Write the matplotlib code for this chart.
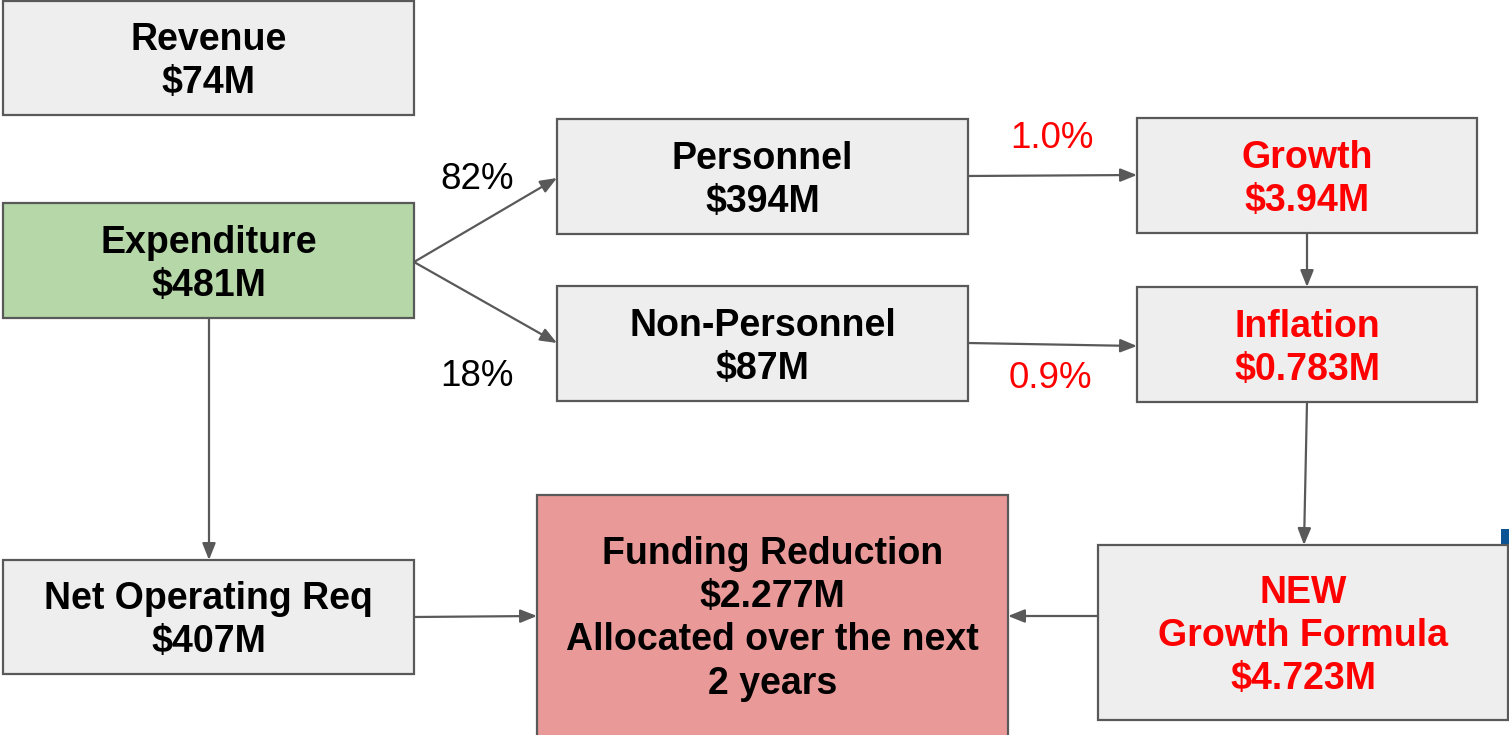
import matplotlib
matplotlib.use("Agg")
import matplotlib.pyplot as plt
from matplotlib.patches import Rectangle, FancyArrowPatch

plt.rcParams['font.family'] = ['Liberation Sans', 'DejaVu Sans']

# ---- data ----
box_names = ["Revenue", "Expenditure", "Personnel", "Non-Personnel", "Growth",
             "Inflation", "Net Operating Req", "Funding Reduction", "NEW Growth Formula"]
box_texts = ["Revenue\n$74M", "Expenditure\n$481M", "Personnel\n$394M",
             "Non-Personnel\n$87M", "Growth\n$3.94M", "Inflation\n$0.783M",
             "Net Operating Req\n$407M",
             "Funding Reduction\n$2.277M\nAllocated over the next\n2 years",
             "NEW\nGrowth Formula\n$4.723M"]
split_labels = ["82%", "18%"]
rate_labels = ["1.0%", "0.9%"]

# ---- layout (pixel coordinates) ----
W, H = 1509, 735
boxes = {
    "Revenue": (3, 1, 414, 115),
    "Expenditure": (3, 203, 414, 318),
    "Personnel": (557, 119, 968, 234),
    "Non-Personnel": (557, 286, 968, 401),
    "Growth": (1137, 118, 1477, 233),
    "Inflation": (1137, 287, 1477, 402),
    "Net Operating Req": (3, 560, 414, 674),
    "Funding Reduction": (537, 495, 1008, 740),
    "NEW Growth Formula": (1098, 545, 1508, 720),
}
fills = {"Expenditure": "#b6d7a8", "Funding Reduction": "#ea9999"}
red_text = {"Growth", "Inflation", "NEW Growth Formula"}
text_y = {"Funding Reduction": 619, "NEW Growth Formula": 636}

fig = plt.figure(figsize=(W / 100, H / 100), dpi=100)
ax = fig.add_axes([0, 0, 1, 1])
ax.set_xlim(0, W)
ax.set_ylim(H, 0)
ax.axis("off")

edge = "#595959"
for name, txt in zip(box_names, box_texts):
    x0, y0, x1, y1 = boxes[name]
    ax.add_patch(Rectangle((x0, y0), x1 - x0, y1 - y0, facecolor=fills.get(name, "#eeeeee"),
                           edgecolor=edge, linewidth=1.6, zorder=1))
    cy = text_y.get(name, (y0 + y1) / 2 + 3.5)
    ax.text((x0 + x1) / 2, cy, txt, ha="center", va="center", fontsize=27,
            fontweight="bold", color="#ff0000" if name in red_text else "#000000",
            linespacing=1.25, zorder=3)

# blue corner mark
ax.add_patch(Rectangle((1501, 529), 10, 16, facecolor="#0b5394", edgecolor="none", zorder=0))

arrows = [
    ((414, 262), (557, 178)),
    ((414, 262), (557, 343)),
    ((968, 176), (1137, 175)),
    ((968, 343), (1137, 346)),
    ((1307, 233), (1307, 287)),
    ((1307, 402), (1304, 545)),
    ((209, 318), (209, 560)),
    ((414, 617), (537, 616)),
    ((1098, 616), (1008, 616)),
]
for (p0, p1) in arrows:
    ax.add_patch(FancyArrowPatch(p0, p1, arrowstyle="-|>,head_length=10,head_width=4",
                                 mutation_scale=1, color=edge, linewidth=1.6,
                                 shrinkA=0, shrinkB=0, zorder=2))

ax.text(477, 179, split_labels[0], ha="center", va="center", fontsize=26.5, color="#000000")
ax.text(477, 376, split_labels[1], ha="center", va="center", fontsize=26.5, color="#000000")
ax.text(1052, 138, rate_labels[0], ha="center", va="center", fontsize=26.5, color="#ff0000")
ax.text(1050, 378, rate_labels[1], ha="center", va="center", fontsize=26.5, color="#ff0000")

fig.savefig("out.png", dpi=100, facecolor="white")
